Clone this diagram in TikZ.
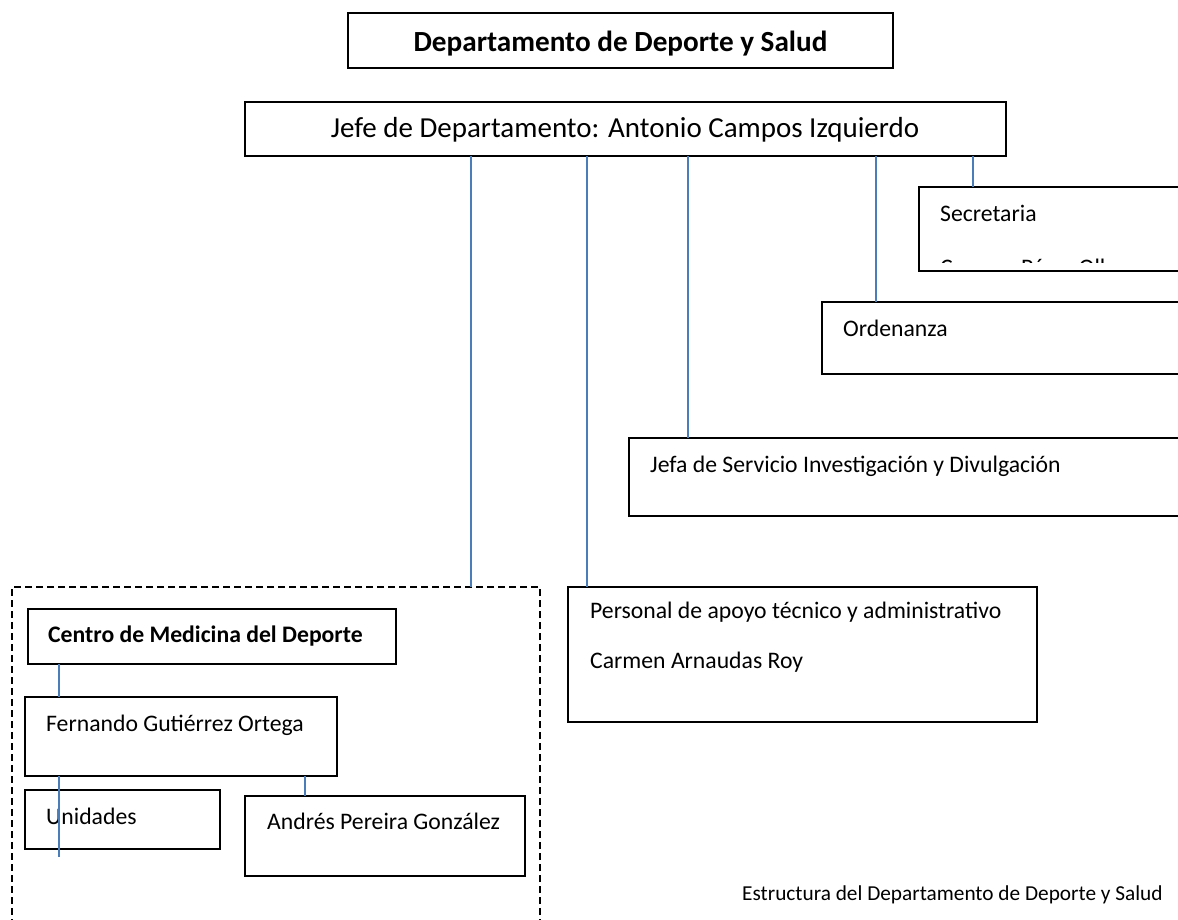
\documentclass[tikz,border=0pt]{standalone}
\usepackage{fontspec}
\setmainfont{Carlito}
\definecolor{lineblue}{HTML}{4A7EBB}
\tikzset{
  box/.style={draw=black, line width=1.8pt, rectangle, inner sep=0pt, outer sep=0pt, anchor=north west},
  dashbox/.style={draw=black, line width=1.6pt, dash pattern=on 7pt off 4pt, rectangle, inner sep=0pt, outer sep=0pt, anchor=north west},
  conn/.style={draw=lineblue, line width=1.8pt},
  txt/.style={anchor=base west, inner sep=0pt, font=\fontsize{23.7}{28}\selectfont},
  btxt/.style={anchor=base west, inner sep=0pt, font=\fontsize{23.7}{28}\selectfont\bfseries},
  bigtxt/.style={anchor=base, inner sep=0pt, font=\fontsize{29}{34}\selectfont},
  bigbtxt/.style={anchor=base, inner sep=0pt, font=\fontsize{29.2}{34}\selectfont\bfseries},
  captxt/.style={anchor=base west, inner sep=0pt, font=\fontsize{21.3}{26}\selectfont},
}
\begin{document}
\begin{tikzpicture}[x=1pt, y=-1pt]
\useasboundingbox (0,0) rectangle (1178,919);
\fill[white] (0,0) rectangle (1178,919);

% boxes
\node[box, minimum width=545pt, minimum height=55pt] (titlebox) at (348,13) {};
\node[box, minimum width=761pt, minimum height=54pt] (jefebox) at (245,102) {};
\node[box, minimum width=271pt, minimum height=84pt] (secbox) at (919,187) {};
\node[box, minimum width=368pt, minimum height=72pt] (ordbox) at (822,302) {};
\node[box, minimum width=561pt, minimum height=78pt] (jefabox) at (629,438) {};
\node[box, minimum width=469pt, minimum height=135pt] (persbox) at (568,587) {};
\node[dashbox, minimum width=528pt, minimum height=350pt] (cmbox) at (12,587) {};
\node[box, minimum width=368pt, minimum height=55pt] (centrobox) at (28,609) {};
\node[box, minimum width=312pt, minimum height=79pt] (fernbox) at (25,697) {};
\node[box, minimum width=195pt, minimum height=59pt] (unibox) at (25,790) {};
\node[box, minimum width=280pt, minimum height=80pt] (andbox) at (245,796) {};

% texts
\node[bigbtxt] (titletxt) at (620.5,51) {Departamento de Deporte y Salud};
\node[bigtxt] (jefetxt) at (625,137) {Jefe de Departamento: Antonio Campos Izquierdo};
\node[txt] (sectxt) at (940,221) {Secretaria};
\begin{scope}
  \clip (919,187) rectangle (1178,262.5);
  \node[txt] (secname) at (940,275) {Carmen Pérez Ollero};
\end{scope}
\node[txt] (ordtxt) at (843,336) {Ordenanza};
\node[txt] (jefatxt) at (650,472) {Jefa de Servicio Investigación y Divulgación};
\node[txt] (perstxt) at (590,618) {Personal de apoyo técnico y administrativo};
\node[txt] (persname) at (590,668) {Carmen Arnaudas Roy};
\node[btxt] (centrotxt) at (48,642) {Centro de Medicina del Deporte};
\node[txt] (ferntxt) at (46,731) {Fernando Gutiérrez Ortega};
\node[txt] (unitxt) at (46,824) {Unidades};
\node[txt] (andtxt) at (267,829) {Andrés Pereira González};
\node[captxt] (caption) at (742,900) {Estructura del Departamento de Deporte y Salud};

% connector x positions
\coordinate (xsec) at (973,0);
\coordinate (xord) at (876,0);
\coordinate (xjefa) at (688,0);
\coordinate (xpers) at (587,0);
\coordinate (xcm) at (471,0);
\coordinate (xleft) at (59,0);
\coordinate (xand) at (305,0);
\coordinate (uniend) at (59,857);

% connectors
\draw[conn] (jefebox.south -| xsec) -- (secbox.north -| xsec);
\draw[conn] (jefebox.south -| xord) -- (ordbox.north -| xord);
\draw[conn] (jefebox.south -| xjefa) -- (jefabox.north -| xjefa);
\draw[conn] (jefebox.south -| xpers) -- (persbox.north -| xpers);
\draw[conn] (jefebox.south -| xcm) -- (cmbox.north -| xcm);
\draw[conn] (centrobox.south -| xleft) -- (fernbox.north -| xleft);
\draw[conn] (fernbox.south -| xleft) -- (uniend);
\draw[conn] (fernbox.south -| xand) -- (andbox.north -| xand);
\end{tikzpicture}
\end{document}
